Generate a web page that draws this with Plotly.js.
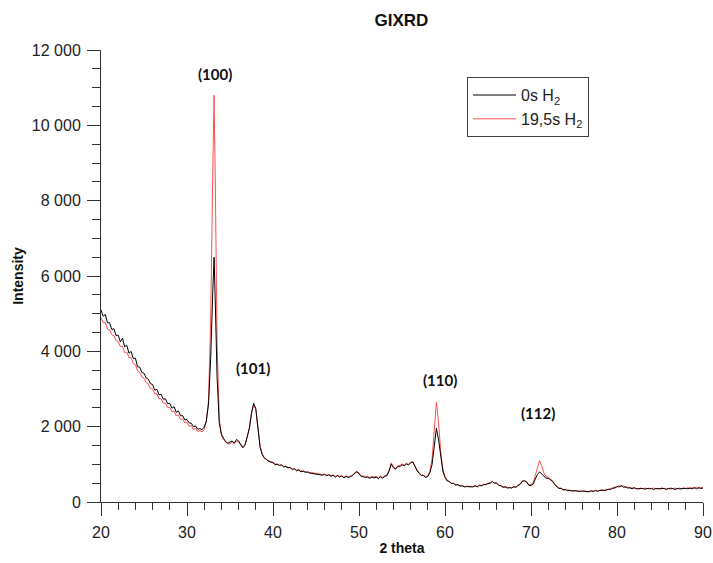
<!DOCTYPE html>
<html>
<head>
<meta charset="utf-8">
<script src="https://cdn.plot.ly/plotly-3.0.1.min.js"></script>
<style>html,body{margin:0;padding:0;background:#fff}#chart{width:713px;height:563px}</style>
</head>
<body>
<div id="chart"></div>
<script>
// 2 theta values (degrees)
var twoTheta = [
20,20.25,20.5,20.75, 21,21.25,21.5,21.75, 22,22.25,22.5,22.75, 23,23.25,23.5,23.75,
24,24.25,24.5,24.75, 25,25.25,25.5,25.75, 26,26.25,26.5,26.75, 27,27.25,27.5,27.75,
28,28.25,28.5,28.75, 29,29.25,29.5,29.75, 30,30.25,30.5,30.75, 31,31.25,31.5,31.75,
32,32.25,32.5,32.75, 33,33.15,33.3,33.5,33.75,
34,34.25,34.5,34.75, 35,35.25,35.5,35.75, 36,36.25,36.5,36.75, 37,37.25,37.5,37.75,
38,38.25,38.5,38.75, 39,39.25,39.5,39.75, 40,40.25,40.5,40.75, 41,41.25,41.5,41.75,
42,42.25,42.5,42.75, 43,43.25,43.5,43.75, 44,44.25,44.5,44.75, 45,45.25,45.5,45.75,
46,46.25,46.5,46.75, 47,47.25,47.5,47.75, 48,48.25,48.5,48.75, 49,49.25,49.5,49.75,
50,50.25,50.5,50.75, 51,51.25,51.5,51.75, 52,52.25,52.5,52.75, 53,53.25,53.5,53.75,
54,54.25,54.5,54.75, 55,55.25,55.5,55.75, 56,56.25,56.5,56.75, 57,57.25,57.5,57.75,
58,58.25,58.5,58.75, 59,59.25,59.5,59.75, 60,60.25,60.5,60.75, 61,61.25,61.5,61.75,
62,62.25,62.5,62.75, 63,63.25,63.5,63.75, 64,64.25,64.5,64.75, 65,65.25,65.5,65.75,
66,66.25,66.5,66.75, 67,67.25,67.5,67.75, 68,68.25,68.5,68.75, 69,69.25,69.5,69.75,
70,70.25,70.5,70.75, 71,71.25,71.5,71.75, 72,72.25,72.5,72.75, 73,73.25,73.5,73.75,
74,74.25,74.5,74.75, 75,75.25,75.5,75.75, 76,76.25,76.5,76.75, 77,77.25,77.5,77.75,
78,78.25,78.5,78.75, 79,79.25,79.5,79.75, 80,80.25,80.5,80.75, 81,81.25,81.5,81.75,
82,82.25,82.5,82.75, 83,83.25,83.5,83.75, 84,84.25,84.5,84.75, 85,85.25,85.5,85.75,
86,86.25,86.5,86.75, 87,87.25,87.5,87.75, 88,88.25,88.5,88.75, 89,89.25,89.5,89.75,
90
];

// Intensity, 0s H2
var int0s = [
5100,4930,4980,4760, 4760,4580,4600,4420, 4430,4250,4350,4120, 4160,3950,4000,3810,
3820,3590,3580,3440, 3420,3290,3260,3140, 3120,2970,2990,2850, 2860,2730,2740,2610,
2620,2490,2530,2380, 2420,2290,2290,2180, 2190,2100,2090,2000, 2020,1930,1950,1920,
1990,2150,2600,3800, 5600,6500,5200,3300,2100,
1800,1690,1600,1560, 1580,1620,1560,1660, 1620,1530,1440,1510, 1700,1950,2350,2620,
2480,1950,1450,1260, 1160,1130,1070,1060, 1040,990,1000,970, 980,930,940,910,
910,860,880,830, 850,800,820,790, 790,770,760,760, 750,730,740,710,
730,700,720,680, 710,660,700,660, 690,640,680,650, 670,700,760,800,
750,680,670,650, 660,630,660,640, 660,620,670,630, 680,700,820,1010,
910,870,940,940, 990,960,1010,980, 1040,1060,950,830, 760,700,700,650,
680,780,1000,1500, 1960,1650,1150,820, 650,560,540,490, 490,450,460,420,
430,400,410,400, 410,400,430,400, 440,430,460,460, 490,500,540,500,
500,440,430,390, 400,370,380,370, 400,390,440,470, 550,560,530,440,
440,470,610,730, 800,750,690,630, 630,590,550,460, 420,360,360,320,
330,300,310,290, 300,290,290,280, 290,280,280,270, 300,270,310,280,
310,300,310,310, 340,330,370,370, 410,400,430,390, 400,370,380,350,
380,350,360,350, 360,340,360,350, 360,330,360,350, 360,350,360,330,
360,350,360,330, 360,350,360,350, 360,350,370,350, 380,350,380,360,
370
];

// Intensity, 19,5s H2
var int195s = [
4900,4770,4770,4590, 4570,4440,4410,4280, 4260,4130,4140,3970, 3980,3840,3830,3670,
3650,3480,3450,3320, 3290,3170,3140,3010, 3000,2870,2870,2740, 2740,2620,2620,2510,
2510,2400,2410,2290, 2310,2190,2210,2100, 2120,2010,2030,1930, 1960,1870,1900,1860,
1930,2150,2700,4800, 8800,10800,8300,4200,2200,
1780,1650,1580,1540, 1540,1590,1560,1610, 1590,1500,1460,1530, 1720,1980,2380,2580,
2450,1960,1480,1280, 1180,1130,1090,1070, 1060,1010,1010,980, 990,940,950,920,
920,880,890,850, 860,820,830,800, 810,780,780,770, 770,740,750,730,
740,710,730,700, 720,680,710,680, 700,660,690,670, 690,710,780,820,
770,690,690,670, 680,650,680,660, 680,640,690,650, 700,720,850,1040,
940,890,960,970, 1010,980,1030,1000, 1060,1070,970,850, 780,720,710,670,
700,820,1150,1900, 2650,2100,1350,880, 680,580,550,500, 500,460,470,430,
440,410,420,410, 420,410,440,410, 450,440,470,470, 500,510,550,510,
510,450,440,400, 410,380,390,380, 410,400,450,480, 560,570,540,450,
460,510,710,910, 1100,950,770,670, 660,610,570,480, 430,370,370,330,
320,320,300,310, 290,310,280,300, 280,300,270,290, 290,300,300,310,
300,330,300,340, 330,360,360,400, 400,440,420,430, 390,400,370,380,
370,380,350,370, 350,370,350,370, 350,370,350,360, 350,380,350,360,
350,380,350,370, 350,370,350,380, 360,380,360,380, 370,390,370,380,
380
];

var seriesNames = ['0s H<sub>2</sub>', '19,5s H<sub>2</sub>'];
var peakLabels = ['(100)', '(101)', '(110)', '(112)'];
var peakX = [33.3, 37.7, 59.4, 70.8];
var peakY = [11350, 3560, 3240, 2360];

var traces = [
  {x: twoTheta, y: int195s, type: 'scatter', mode: 'lines', name: seriesNames[1],
   line: {color: '#ff5050', width: 1}, legendrank: 2},
  {x: twoTheta, y: int0s, type: 'scatter', mode: 'lines', name: seriesNames[0],
   line: {color: '#000000', width: 1}, legendrank: 1}
];

var annotations = peakLabels.map(function (t, i) {
  return {x: peakX[i], y: peakY[i], xref: 'x', yref: 'y', text: '<b>' + t + '</b>',
    showarrow: false, font: {family: 'Lato, Open Sans, sans-serif', size: 15, color: '#111'}};
});

var axisCommon = {
  showgrid: false, zeroline: false, showline: true, linecolor: '#333', linewidth: 1,
  ticks: 'outside', ticklen: 13, tickcolor: '#333', tickwidth: 1,
  tickfont: {family: 'Liberation Sans, Arial, sans-serif', size: 16, color: '#222'}
};

var layout = {
  width: 713, height: 563,
  margin: {l: 101, r: 10, t: 50, b: 61},
  paper_bgcolor: '#fff', plot_bgcolor: '#fff',
  separators: ', ',
  title: {text: '<b>GIXRD</b>', x: 0.563, xanchor: 'center', y: 0.965, yanchor: 'middle',
    font: {family: 'Liberation Sans, Arial, sans-serif', size: 17, color: '#111'}},
  xaxis: Object.assign({}, axisCommon, {
    range: [20, 90], dtick: 10, tick0: 20, ticklabelstandoff: 3,
    minor: {dtick: 2, ticklen: 7, tickcolor: '#333', ticks: 'outside'},
    title: {text: '<b>2 theta</b>', standoff: 2,
      font: {family: 'Liberation Sans, Arial, sans-serif', size: 14, color: '#111'}}
  }),
  yaxis: Object.assign({}, axisCommon, {
    range: [0, 12000], dtick: 2000, tickformat: ',d', separatethousands: true,
    exponentformat: 'none', ticklabelstandoff: 3,
    minor: {dtick: 500, ticklen: 8, tickcolor: '#333', ticks: 'outside'},
    title: {text: '<b>Intensity</b>', standoff: 4,
      font: {family: 'Liberation Sans, Arial, sans-serif', size: 14, color: '#111'}}
  }),
  legend: {x: 0.608, y: 0.94, xanchor: 'left', yanchor: 'top',
    bordercolor: '#444', borderwidth: 1, bgcolor: '#fff', itemwidth: 43,
    font: {family: 'Liberation Sans, Arial, sans-serif', size: 16, color: '#222'},
    tracegroupgap: 0},
  annotations: annotations,
  showlegend: true
};

Plotly.newPlot('chart', traces, layout, {displayModeBar: false, staticPlot: true});
</script>
</body>
</html>
